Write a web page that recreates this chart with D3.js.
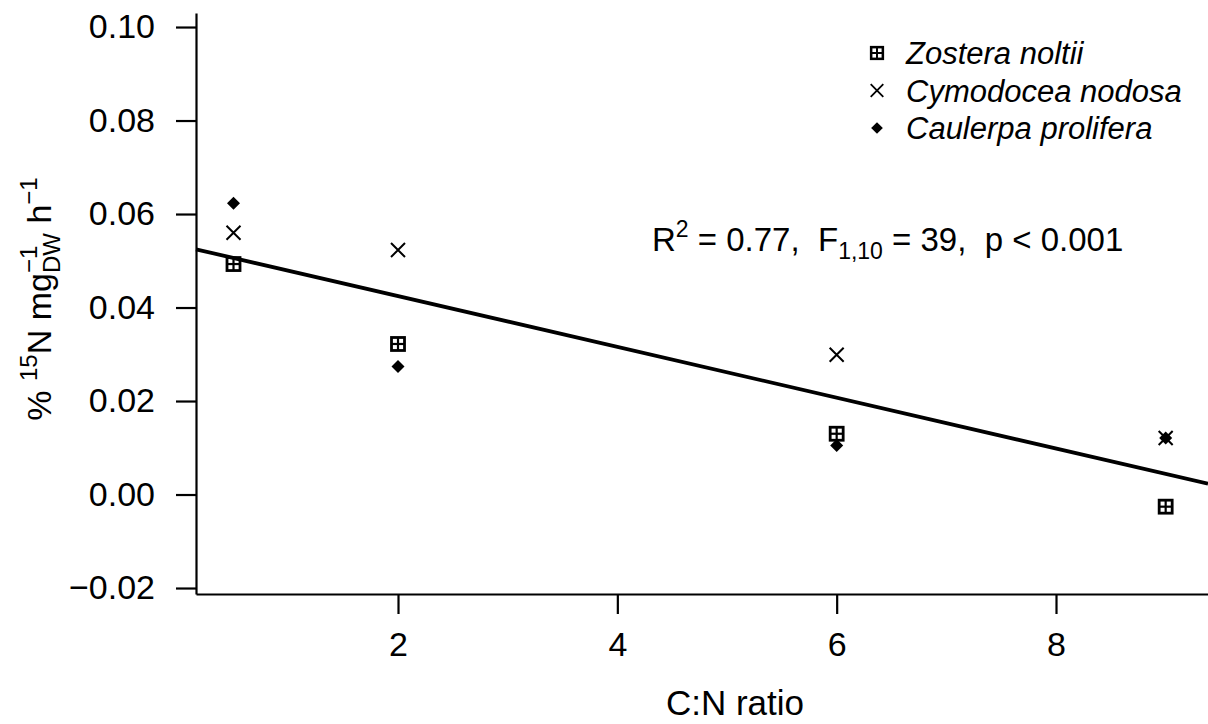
<!DOCTYPE html>
<html>
<head>
<meta charset="utf-8">
<script src="https://cdnjs.cloudflare.com/ajax/libs/d3/7.8.5/d3.min.js"></script>
<style>
  body { margin: 0; background: #fff; }
  text { font-family: "Liberation Sans", Arial, sans-serif; fill: #000; }
</style>
</head>
<body>
<div id="chart"></div>
<script>
// values
var ratios = [0.5, 2, 6, 9];
var zostera = [0.0493, 0.0322, 0.0130, -0.0026];
var cymodocea = [0.0560, 0.0523, 0.0299, 0.0121];
var caulerpa = [0.0623, 0.0274, 0.0105, 0.0121];
var xTicks = [2, 4, 6, 8];
var yTicks = [-0.02, 0.00, 0.02, 0.04, 0.06, 0.08, 0.10];
var speciesNames = ["Zostera noltii", "Cymodocea nodosa", "Caulerpa prolifera"];
var speciesShapes = ["squareplus", "cross", "diamond"];

var svgWidth = 1208;
var svgHeight = 724;

var svg = d3.select("#chart")
  .append("svg")
  .attr("width", svgWidth)
  .attr("height", svgHeight);

var xScale = d3.scaleLinear()
  .domain([0.158, 9.386])
  .range([196, 1208]);

var yScale = d3.scaleLinear()
  .domain([-0.02128, 0.103])
  .range([594, 13]);

// build point table from the series
var seriesValues = [zostera, cymodocea, caulerpa];
var points = [];
seriesValues.forEach(function(vals, s) {
  vals.forEach(function(v, i) {
    points.push({ x: ratios[i], y: v, shape: speciesShapes[s] });
  });
});

// least squares fit through all points
var mx = d3.mean(points, d => d.x);
var my = d3.mean(points, d => d.y);
var sxy = d3.sum(points, d => (d.x - mx) * (d.y - my));
var sxx = d3.sum(points, d => (d.x - mx) * (d.x - mx));
var slope = sxy / sxx;
var intercept = my - slope * mx;

// axes
var bottomAxis = d3.axisBottom(xScale)
  .tickValues(xTicks)
  .tickSize(20)
  .tickSizeOuter(0)
  .tickPadding(10)
  .tickFormat(d3.format("d"));

var leftAxis = d3.axisLeft(yScale)
  .tickValues(yTicks)
  .tickSize(20)
  .tickSizeOuter(0)
  .tickPadding(21)
  .tickFormat(d => d3.format(".2f")(d).replace("-", "\u2212"));

var gx = svg.append("g")
  .attr("transform", "translate(0, 594)")
  .call(bottomAxis);

var gy = svg.append("g")
  .attr("transform", "translate(196, 0)")
  .call(leftAxis);

[gx, gy].forEach(function(g) {
  g.selectAll("path, line").attr("stroke", "#000").attr("stroke-width", 2.2);
  g.selectAll("text")
    .attr("font-size", "34px")
    .attr("font-family", "'Liberation Sans', Arial, sans-serif")
    .attr("fill", "#000");
});
gx.selectAll("text").attr("dy", "0.95em");

// markers
function drawMarker(g, shape) {
  if (shape === "squareplus") {
    g.append("rect")
      .attr("x", -6.5).attr("y", -6.5)
      .attr("width", 13).attr("height", 13)
      .attr("fill", "none").attr("stroke", "#000").attr("stroke-width", 2.8);
    g.append("line").attr("x1", -6.5).attr("x2", 6.5).attr("y1", 0).attr("y2", 0)
      .attr("stroke", "#000").attr("stroke-width", 2.2);
    g.append("line").attr("x1", 0).attr("x2", 0).attr("y1", -6.5).attr("y2", 6.5)
      .attr("stroke", "#000").attr("stroke-width", 2.2);
  } else if (shape === "cross") {
    g.append("path")
      .attr("d", "M-7,-7L7,7M-7,7L7,-7")
      .attr("stroke", "#000").attr("stroke-width", 2).attr("fill", "none");
  } else {
    g.append("path")
      .attr("d", "M0,-6.5L6.5,0L0,6.5L-6.5,0Z")
      .attr("fill", "#000");
  }
}

svg.selectAll(".pt")
  .data(points)
  .enter()
  .append("g")
  .attr("class", "pt")
  .attr("transform", d => `translate(${xScale(d.x)}, ${yScale(d.y)})`)
  .each(function(d) { drawMarker(d3.select(this), d.shape); });

// regression line
var xd = xScale.domain();
svg.append("line")
  .attr("x1", xScale(xd[0]))
  .attr("y1", yScale(intercept + slope * xd[0]))
  .attr("x2", xScale(xd[1]))
  .attr("y2", yScale(intercept + slope * xd[1]))
  .attr("stroke", "#000")
  .attr("stroke-width", 3.8);

// legend
var legend = svg.append("g");
speciesNames.forEach(function(name, i) {
  var row = legend.append("g").attr("transform", `translate(877, ${53 + i * 37.5})`);
  drawMarker(row.append("g").attr("transform", "scale(0.9)"), speciesShapes[i]);
  row.append("text")
    .attr("x", 29)
    .attr("y", 11)
    .attr("font-size", "31px")
    .attr("font-style", "italic")
    .text(name);
});

// statistics annotation
var stat = svg.append("text")
  .attr("x", 652)
  .attr("y", 251)
  .attr("font-size", "33px")
  .attr("xml:space", "preserve");
stat.append("tspan").text("R");
stat.append("tspan").attr("font-size", "23px").attr("dy", -14).text("2");
stat.append("tspan").attr("dy", 14).text(" = 0.77,  F");
stat.append("tspan").attr("font-size", "23px").attr("dy", 8).text("1,10");
stat.append("tspan").attr("dy", -8).text(" = 39,  p < 0.001");

// x axis title
svg.append("text")
  .attr("x", 735)
  .attr("y", 715)
  .attr("text-anchor", "middle")
  .attr("font-size", "35px")
  .text("C:N ratio");

// y axis title
var ylab = svg.append("text")
  .attr("transform", "translate(51, 299) rotate(-90)")
  .attr("text-anchor", "middle")
  .attr("font-size", "34px")
  .attr("xml:space", "preserve");
ylab.append("tspan").text("% ");
ylab.append("tspan").attr("font-size", "24px").attr("dy", -14).text("15");
ylab.append("tspan").attr("dy", 14).text("N mg");
var sub = ylab.append("tspan").attr("font-size", "24px").attr("dy", 9).text("DW");
var subW = sub.node().getComputedTextLength();
var sup = ylab.append("tspan").attr("font-size", "24px").attr("dx", -subW).attr("dy", -23).text("\u22121");
var supW = sup.node().getComputedTextLength();
ylab.append("tspan").attr("dx", Math.max(0, subW - supW)).attr("dy", 14).text(" h");
ylab.append("tspan").attr("font-size", "24px").attr("dy", -14).text("\u22121");
</script>
</body>
</html>
